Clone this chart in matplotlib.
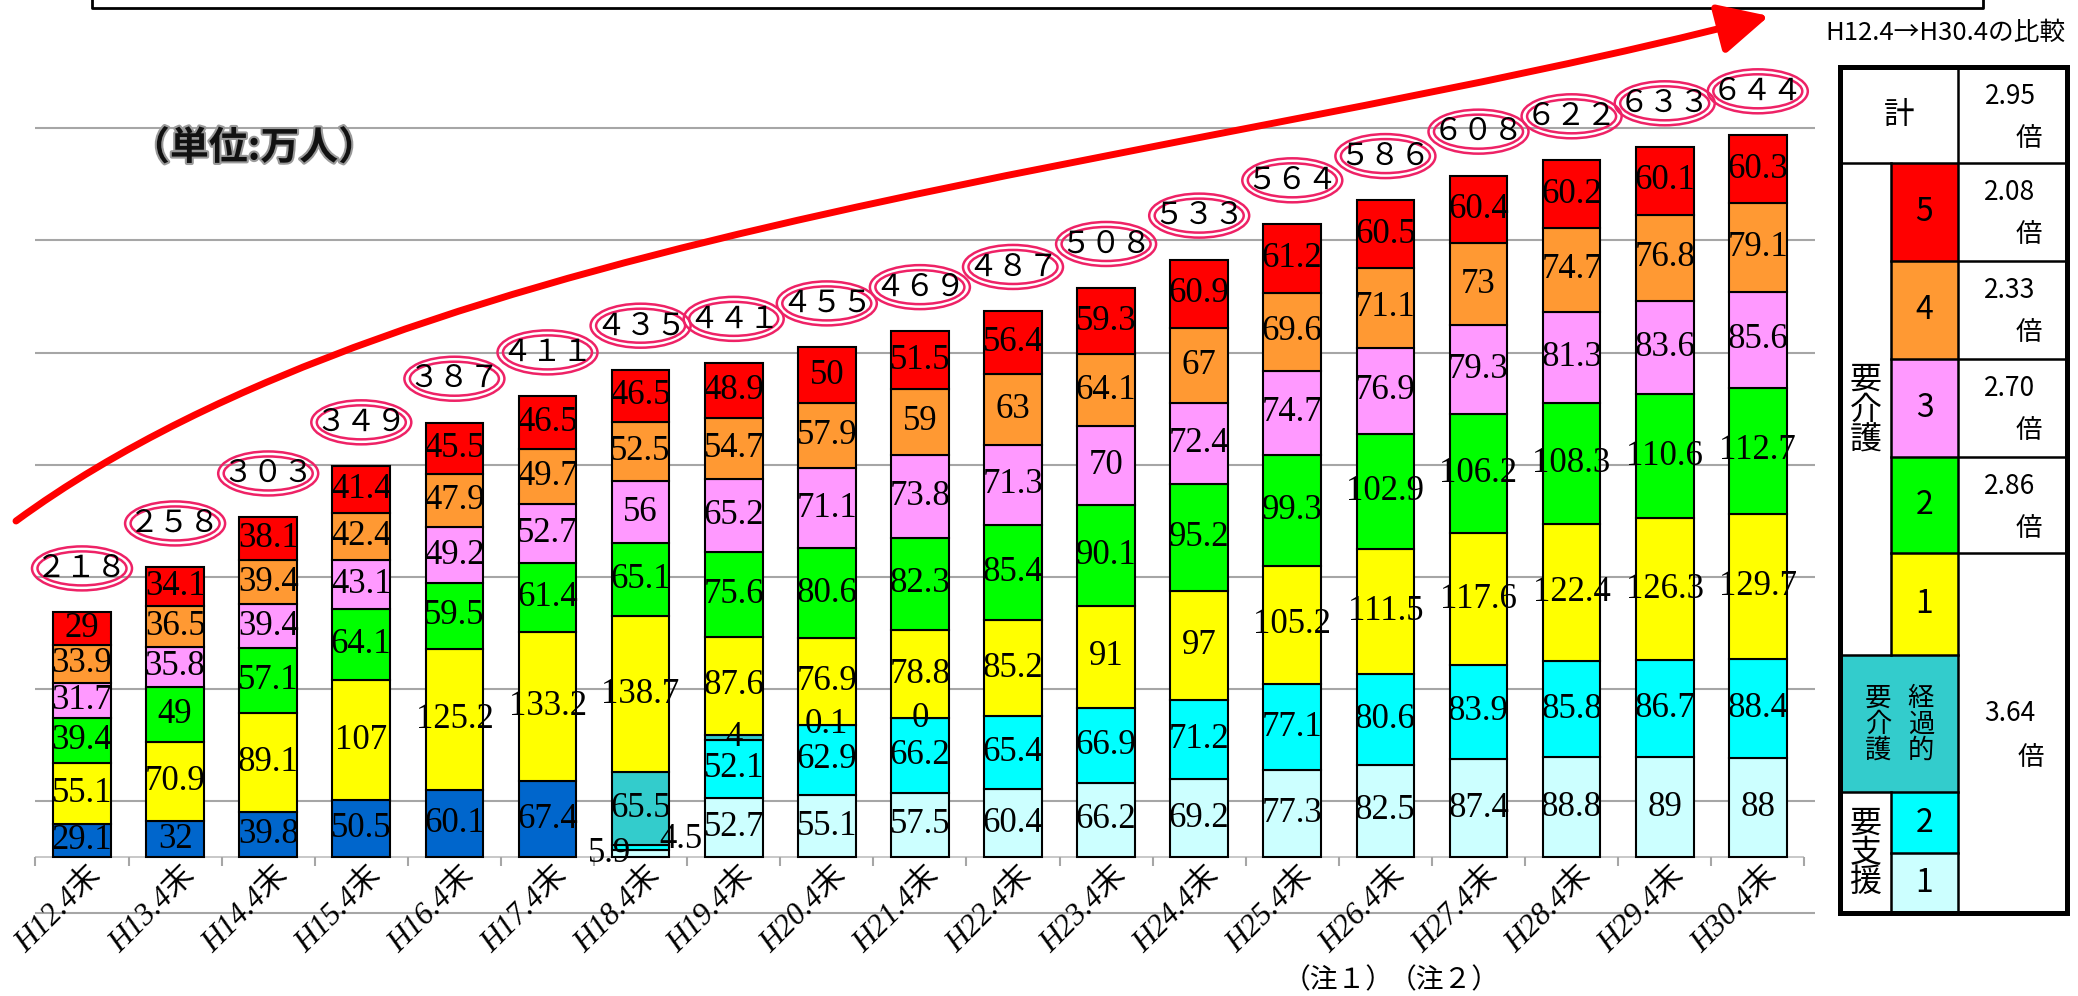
import numpy as np
import matplotlib
matplotlib.use('Agg')
import matplotlib.pyplot as plt
import matplotlib.patheffects as pe
from matplotlib.patches import Ellipse, Rectangle, FancyArrowPatch
from matplotlib.path import Path

# ---------------- data ----------------
categories = ['H12.4末', 'H13.4末', 'H14.4末', 'H15.4末', 'H16.4末', 'H17.4末', 'H18.4末',
              'H19.4末', 'H20.4末', 'H21.4末', 'H22.4末', 'H23.4末', 'H24.4末', 'H25.4末',
              'H26.4末', 'H27.4末', 'H28.4末', 'H29.4末', 'H30.4末']
nan = np.nan
yoshien_old = [29.1, 32, 39.8, 50.5, 60.1, 67.4] + [nan] * 13
shien1 = [nan] * 6 + [5.9, 52.7, 55.1, 57.5, 60.4, 66.2, 69.2, 77.3, 82.5, 87.4, 88.8, 89, 88]
shien2 = [nan] * 6 + [4.5, 52.1, 62.9, 66.2, 65.4, 66.9, 71.2, 77.1, 80.6, 83.9, 85.8, 86.7, 88.4]
keika = [nan] * 6 + [65.5, 4, 0.1, 0] + [nan] * 9
kaigo1 = [55.1, 70.9, 89.1, 107, 125.2, 133.2, 138.7, 87.6, 76.9, 78.8, 85.2, 91, 97, 105.2, 111.5, 117.6, 122.4, 126.3, 129.7]
kaigo2 = [39.4, 49, 57.1, 64.1, 59.5, 61.4, 65.1, 75.6, 80.6, 82.3, 85.4, 90.1, 95.2, 99.3, 102.9, 106.2, 108.3, 110.6, 112.7]
kaigo3 = [31.7, 35.8, 39.4, 43.1, 49.2, 52.7, 56, 65.2, 71.1, 73.8, 71.3, 70, 72.4, 74.7, 76.9, 79.3, 81.3, 83.6, 85.6]
kaigo4 = [33.9, 36.5, 39.4, 42.4, 47.9, 49.7, 52.5, 54.7, 57.9, 59, 63, 64.1, 67, 69.6, 71.1, 73, 74.7, 76.8, 79.1]
kaigo5 = [29, 34.1, 38.1, 41.4, 45.5, 46.5, 46.5, 48.9, 50, 51.5, 56.4, 59.3, 60.9, 61.2, 60.5, 60.4, 60.2, 60.1, 60.3]
totals = [218, 258, 303, 349, 387, 411, 435, 441, 455, 469, 487, 508, 533, 564, 586, 608, 622, 633, 644]

ratio_title = 'H12.4→H30.4の比較'
ratio_rows = ['計', '5', '4', '3', '2', '1']
ratio_vals = ['2.95', '2.08', '2.33', '2.70', '2.86', '3.64']
notes = ['（注１）', '（注２）']
unit_label = '（単位:万人）'

# ---------------- style ----------------
series = [
    ('old', yoshien_old, '#0066CC'),
    ('s1', shien1, '#CCFFFF'),
    ('s2', shien2, '#00FFFF'),
    ('keika', keika, '#33CCCC'),
    ('k1', kaigo1, '#FFFF00'),
    ('k2', kaigo2, '#00FF00'),
    ('k3', kaigo3, '#FF99FF'),
    ('k4', kaigo4, '#FF9933'),
    ('k5', kaigo5, '#FF0000'),
]
label_offsets = {(6, 's1'): (-22, 0), (6, 's2'): (29, 6)}

W, H = 2078, 996
PX0, PXS = 82, 93.1      # x pixel of first bar, pixel per category
Y0, YS = 857, 1.121      # baseline pixel (from top), pixel per unit
CJK = ['Noto Sans CJK JP', 'DejaVu Sans']
SERIF = ['Liberation Serif', 'Noto Sans CJK JP']

fig = plt.figure(figsize=(W / 100, H / 100), dpi=100)
ax = fig.add_axes([0, 0, 1, 1])
ax.set_xlim(-PX0 / PXS, (W - PX0) / PXS)
ax.set_ylim(-(H - Y0) / YS, Y0 / YS)
ax.axis('off')

n = len(categories)
x = np.arange(n)
barw = 0.62

# gridlines
grid_vals = [-50, 50, 150, 250, 350, 450, 550, 650]
ax.hlines(grid_vals, (35 - PX0) / PXS, (1815 - PX0) / PXS, color='#A6A6A6', lw=1.5, zorder=0)
ax.hlines([0], -0.5, n - 0.5, color='#BFBFBF', lw=1.2, zorder=0)
ax.vlines(np.arange(-0.5, n, 1.0), -9 / YS, 0, color='#A6A6A6', lw=1.5, zorder=0)

# bars
bottom = np.zeros(n)
for key, vals, col in series:
    v = np.array(vals, dtype=float)
    for i in range(n):
        if np.isnan(v[i]):
            continue
        ax.bar(x[i], v[i], barw, bottom=bottom[i], color=col, edgecolor='black', lw=1.5, zorder=2)
        yc = bottom[i] + v[i] / 2
        off = label_offsets.get((i, key), (0, 0))
        ax.annotate(f'{v[i]:g}', (x[i], yc), xytext=off, textcoords='offset points',
                    ha='center', va='center', fontsize=25, family=SERIF, zorder=4)
        bottom[i] += v[i]

# totals in double ellipses
fw = str.maketrans('0123456789', '０１２３４５６７８９')
for i in range(n):
    cy = bottom[i] + 44 / YS
    for ew, eh in [(100, 44), (89, 34)]:
        ax.add_patch(Ellipse((x[i], cy), ew / PXS, eh / YS, fill=False,
                             edgecolor='#EE2266', lw=1.8, zorder=3))
    ax.text(x[i], cy, str(totals[i]).translate(fw), ha='center', va='center',
            fontsize=22, family=CJK, zorder=4)

# x labels
for i in range(n):
    ax.text(x[i] + 0.06, -4 / YS, categories[i], rotation=45, rotation_mode='anchor',
            ha='right', va='top', fontsize=22.5, family=SERIF, style='italic', zorder=4)

# ---------------- overlay in pixel coordinates ----------------
ov = fig.add_axes([0, 0, 1, 1])
ov.set_xlim(0, W)
ov.set_ylim(H, 0)
ov.axis('off')

# title box bottom edge
ov.plot([92, 92, 1983, 1983], [0, 8, 8, 0], color='black', lw=2)

# unit label
ov.text(254, 148, unit_label, ha='center', va='center', fontsize=28, fontweight='bold', family=CJK,
        color='#111111', path_effects=[pe.withStroke(linewidth=3, foreground='#9A9A9A')])

# notes
ov.text(1338, 980, notes[0], ha='center', va='center', fontsize=20, family=CJK)
ov.text(1444, 980, notes[1], ha='center', va='center', fontsize=20, family=CJK)

# red arrow
verts = [(16, 521), (420, 225), (1193, 165), (1769, 16)]
path = Path(verts, [Path.MOVETO, Path.CURVE4, Path.CURVE4, Path.CURVE4])
ov.add_patch(FancyArrowPatch(path=path, arrowstyle='-|>,head_length=1.1,head_width=0.55',
                             mutation_scale=28, color='#FF0000', lw=5, zorder=5))

# comparison table
ov.text(1945, 33, ratio_title, ha='center', va='center', fontsize=18.5, family=CJK)
x0, x1, x2, x3 = 1840, 1891, 1958, 2067
rows = [67, 163, 261, 359, 457, 553, 655, 792, 853, 913]
level_cols = ['#FF0000', '#FF9933', '#FF99FF', '#00FF00', '#FFFF00']
for k, c in enumerate(level_cols):
    ov.add_patch(Rectangle((x1, rows[k + 1]), x2 - x1, rows[k + 2] - rows[k + 1], facecolor=c, edgecolor='none'))
ov.add_patch(Rectangle((x0, rows[6]), x2 - x0, rows[7] - rows[6], facecolor='#33CCCC', edgecolor='none'))
ov.add_patch(Rectangle((x1, rows[7]), x2 - x1, rows[8] - rows[7], facecolor='#00FFFF', edgecolor='none'))
ov.add_patch(Rectangle((x1, rows[8]), x2 - x1, rows[9] - rows[8], facecolor='#CCFFFF', edgecolor='none'))

lk = dict(color='black', lw=1.8)
ov.plot([x0, x3], [rows[1]] * 2, **lk)
for r in rows[2:6]:
    ov.plot([x1, x3], [r, r], **lk)
ov.plot([x0, x2], [rows[6]] * 2, **lk)
ov.plot([x0, x2], [rows[7]] * 2, **lk)
ov.plot([x1, x2], [rows[8]] * 2, **lk)
ov.plot([x2, x2], [rows[0], rows[9]], **lk)
ov.plot([x1, x1], [rows[1], rows[6]], **lk)
ov.plot([x1, x1], [rows[7], rows[9]], **lk)
ov.add_patch(Rectangle((x0, rows[0]), x3 - x0, rows[9] - rows[0], fill=False, edgecolor='black', lw=3.6))

ov.text((x0 + x2) / 2, (rows[0] + rows[1]) / 2, ratio_rows[0], ha='center', va='center', fontsize=22, family=CJK)
for k in range(5):
    ov.text((x1 + x2) / 2, (rows[k + 1] + rows[k + 2]) / 2, ratio_rows[k + 1], ha='center', va='center',
            fontsize=23, family=CJK)
for k in range(5):
    top = rows[k]
    ov.text(2010, top + 29, ratio_vals[k], ha='center', va='center', fontsize=19, family=CJK)
    ov.text(2029, top + 71, '倍', ha='center', va='center', fontsize=19, family=CJK)
ov.text(2010, 713, ratio_vals[5], ha='center', va='center', fontsize=19, family=CJK)
ov.text(2031, 757, '倍', ha='center', va='center', fontsize=19, family=CJK)

ov.text((x0 + x1) / 2, 410, '要\n介\n護', ha='center', va='center', fontsize=23, family=CJK, linespacing=0.95)
ov.text(1878, 724, '要\n介\n護', ha='center', va='center', fontsize=19, family=CJK, linespacing=0.95)
ov.text(1921, 724, '経\n過\n的', ha='center', va='center', fontsize=19, family=CJK, linespacing=0.95)
ov.text((x0 + x1) / 2, 853, '要\n支\n援', ha='center', va='center', fontsize=23, family=CJK, linespacing=0.88)
for k, r in enumerate([(rows[7], rows[8]), (rows[8], rows[9])]):
    ov.text((x1 + x2) / 2, sum(r) / 2, ['2', '1'][k], ha='center', va='center', fontsize=23, family=CJK)

fig.savefig('out.png', dpi=100)
